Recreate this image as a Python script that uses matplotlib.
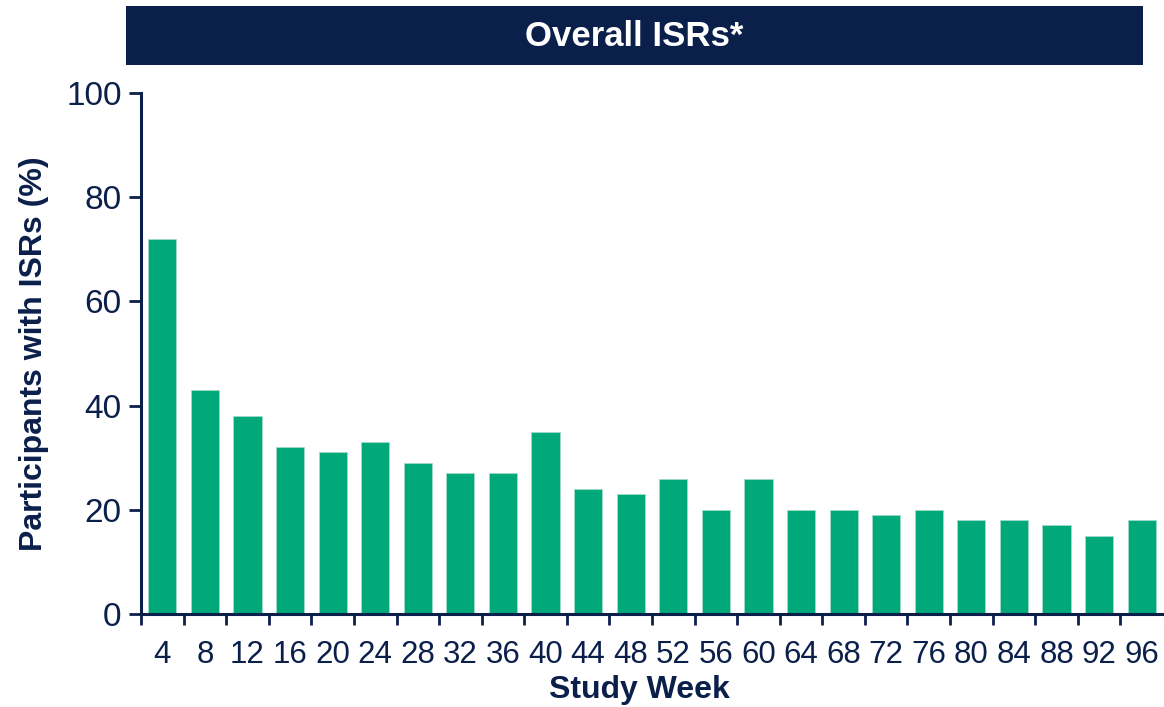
import matplotlib
matplotlib.use("Agg")
import matplotlib.pyplot as plt
from matplotlib.patches import Rectangle
import numpy as np

weeks = ["4", "8", "12", "16", "20", "24", "28", "32", "36", "40", "44", "48",
         "52", "56", "60", "64", "68", "72", "76", "80", "84", "88", "92", "96"]
values = [72, 43, 38, 32, 31, 33, 29, 27, 27, 35, 24, 23,
          26, 20, 26, 20, 20, 19, 20, 18, 18, 17, 15, 18]
title = "Overall ISRs*"
ylabel = "Participants with ISRs (%)"
xlabel = "Study Week"
yticks = [0, 20, 40, 60, 80, 100]

NAVY = "#0b1f4b"
GREEN = "#00a87a"

plt.rcParams['font.family'] = ['Liberation Sans', 'DejaVu Sans']

fig = plt.figure(figsize=(11.64, 7.07), dpi=100)
ax = fig.add_axes([141/1164, 93/707, (1163-141)/1164, (614-93)/707])

x = np.arange(len(weeks))
ax.bar(x, values, width=0.66, color=GREEN, edgecolor="#9fdcc9", linewidth=0.6, zorder=2)

ax.set_xlim(-0.5, len(weeks) - 0.5)
ax.set_ylim(0, 100)
ax.set_yticks(yticks)
ax.set_yticklabels([str(t) for t in yticks])
ax.set_xticks(x)
ax.set_xticklabels(weeks)
ax.set_xticks(np.arange(-0.5, len(weeks) - 0.5, 1.0), minor=True)

ax.tick_params(axis='x', which='major', length=0, pad=19, labelsize=22.5, labelcolor=NAVY)
ax.tick_params(axis='x', which='minor', length=8, width=2, color=NAVY, direction='out')
ax.tick_params(axis='y', which='major', length=9, width=2, color=NAVY, pad=5,
               labelsize=24, labelcolor=NAVY)

for s in ['top', 'right']:
    ax.spines[s].set_visible(False)
for s in ['left', 'bottom']:
    ax.spines[s].set_color(NAVY)
    ax.spines[s].set_linewidth(2.2)

ax.set_ylabel(ylabel, fontsize=23, fontweight='bold', color=NAVY, labelpad=12)
ax.set_xlabel(xlabel, fontsize=23, fontweight='bold', color=NAVY)
ax.xaxis.set_label_coords(0.488, -0.118)

# Title banner
fig.patches.append(Rectangle((126/1164, (707-65)/707), (1143-126)/1164, 59/707,
                             transform=fig.transFigure, facecolor=NAVY,
                             edgecolor='none', zorder=0))
fig.text((126+1143)/2/1164, (707-36)/707, title, ha='center', va='center',
         color='white', fontsize=25, fontweight='bold')

fig.savefig("out.png", dpi=100)
